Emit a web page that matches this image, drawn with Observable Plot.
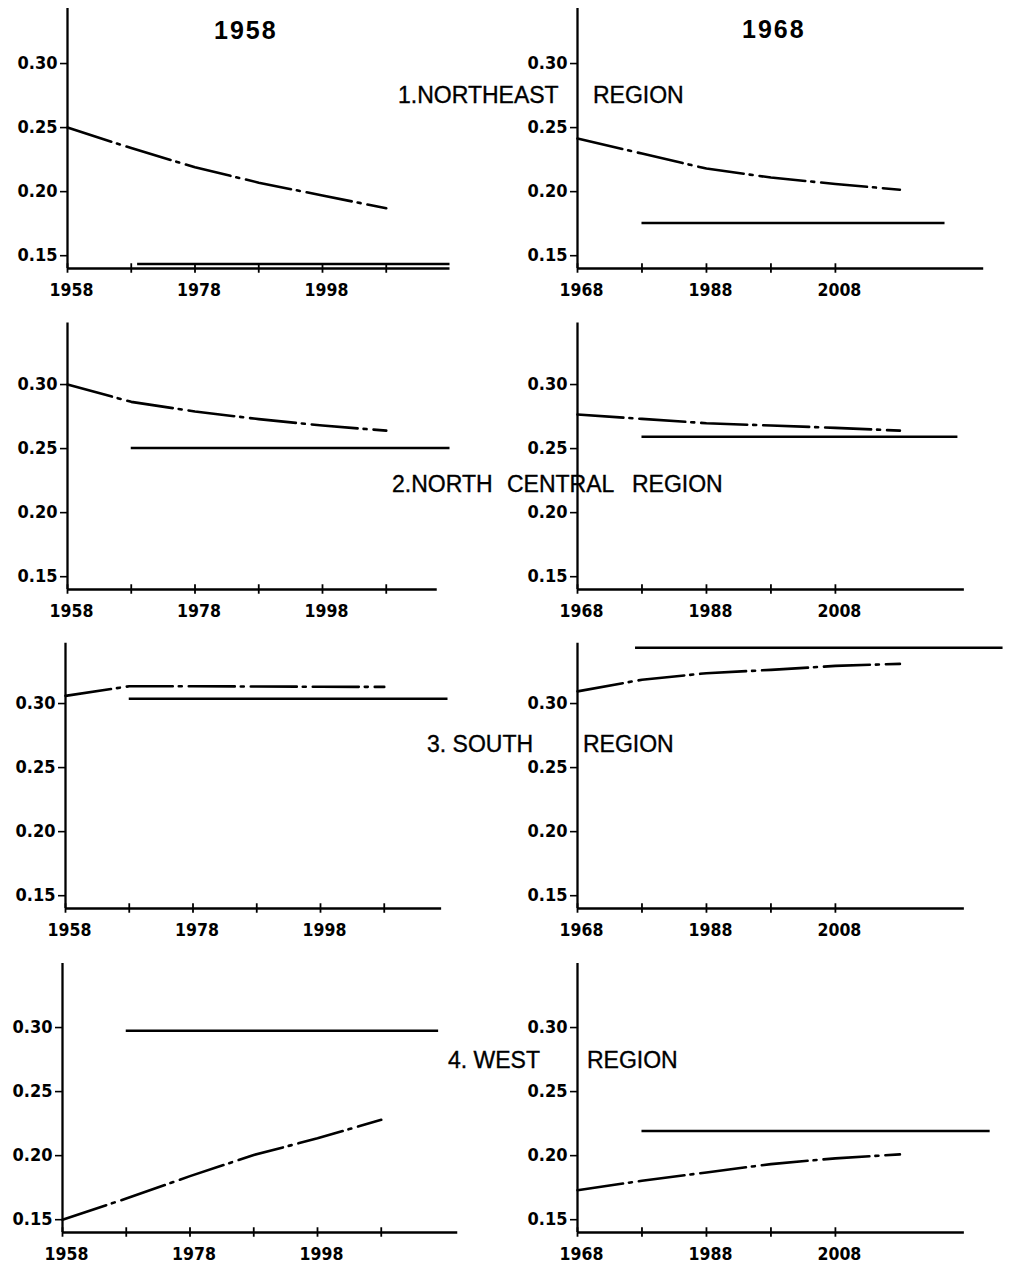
<!DOCTYPE html>
<html>
<head>
<meta charset="utf-8">
<script src="https://cdn.jsdelivr.net/npm/d3@7"></script>
<script src="https://cdn.jsdelivr.net/npm/@observablehq/plot@0.6"></script>
<style>
  html, body { margin: 0; padding: 0; background: #fff; }
  #chart { position: relative; width: 1009px; height: 1264px; overflow: hidden; background: #fff; }
  .panel { position: absolute; }
  .label { position: absolute; font-family: "Liberation Sans", Arial, sans-serif; color: #000; white-space: pre; line-height: 1; }
  .col-title { font-size: 25px; font-weight: bold; letter-spacing: 2px; }
  .region { font-size: 23px; -webkit-text-stroke: 0.35px #000; }
</style>
</head>
<body>
<div id="chart"></div>
<script>
// Projection base years (one column each)
const baseYears = [1958, 1968];
const columnTitles = ["1958", "1968"];

// Region names, split where the right-hand axis runs through them
const regionParts = [
  ["1.NORTHEAST", "REGION"],
  ["2.NORTH", "CENTRAL", "REGION"],
  ["3. SOUTH", "REGION"],
  ["4. WEST", "REGION"]
];

// Years of the projected (dash-dot) series
const years1958 = [1958, 1968, 1978, 1988, 1998, 2008];
const years1968 = [1968, 1978, 1988, 1998, 2008, 2018];

// Projected shares, base 1958
const northeast1958    = [0.250, 0.234, 0.219, 0.207, 0.197, 0.187];
const northCentral1958 = [0.300, 0.2865, 0.279, 0.273, 0.268, 0.264];
const south1958        = [0.306, 0.3135, 0.3135, 0.3133, 0.3131, 0.313];
const west1958         = [0.150, 0.1665, 0.184, 0.2005, 0.2135, 0.228];

// Projected shares, base 1968
const northeast1968    = [0.2415, 0.2297, 0.218, 0.211, 0.206, 0.2015];
const northCentral1968 = [0.2766, 0.2732, 0.2698, 0.268, 0.2662, 0.264];
const south1968        = [0.3095, 0.3186, 0.3237, 0.3263, 0.3294, 0.331];
const west1968         = [0.173, 0.1804, 0.1869, 0.1934, 0.1979, 0.201];

// Equilibrium levels (solid lines) and the years they span
const level1958 = [0.1435, 0.2505, 0.3038, 0.2975];
const level1968 = [0.1755, 0.2593, 0.3436, 0.2192];
const levelFrom1958 = [1969, 1968, 1968, 1968];
const levelTo1958   = [2018, 2018, 2018, 2017];
const levelFrom1968 = [1978, 1978, 1977, 1978];
const levelTo1968   = [2025, 2027, 2034, 2032];

// Axis extents (years at the end of each x axis, value at the top of each y axis)
const axisEnd1958 = [2018, 2016, 2017, 2020];
const axisEnd1968 = [2031, 2028, 2028, 2028];
const axisTop = [0.343, 0.348, 0.347, 0.350];

// Ticks
const yTicks = [0.15, 0.20, 0.25, 0.30];
const tickYears1958 = [1958, 1968, 1978, 1988, 1998, 2008];
const tickYears1968 = [1968, 1978, 1988, 1998, 2008];
const labelYears1958 = [1958, 1978, 1998];
const labelYears1968 = [1968, 1988, 2008];

const series = [
  [northeast1958, northeast1968],
  [northCentral1958, northCentral1968],
  [south1958, south1968],
  [west1958, west1968]
];

// Layout of the grid
const rowTop = [-11, 309.5, 629.3, 953];
const colLeft = [[0, 500], [0, 500], [-2, 500], [-5, 500]];
const yDomain = [0.14, 0.35];
const tickFont = "DejaVu Sans Condensed, DejaVu Sans, sans-serif";

const chart = document.getElementById("chart");

function makePanel(row, col) {
  const start = baseYears[col];
  const years = col === 0 ? years1958 : years1968;
  const values = series[row][col];
  const pts = years.map((year, i) => ({year, value: values[i]}));
  const level = col === 0 ? level1958[row] : level1968[row];
  const from = col === 0 ? levelFrom1958[row] : levelFrom1968[row];
  const to = col === 0 ? levelTo1958[row] : levelTo1968[row];
  const end = col === 0 ? axisEnd1958[row] : axisEnd1968[row];
  const tickYears = col === 0 ? tickYears1958 : tickYears1968;
  const labelYears = col === 0 ? labelYears1958 : labelYears1968;
  const xDomain = col === 0 ? [1958, 2022] : [1968, 2035];
  const ml = col === 0 ? 67 : 77;
  const width = col === 0 ? 480 : 509;
  const mr = col === 0 ? 5 : 0;

  const svg = Plot.plot({
    width, height: 319,
    marginLeft: ml, marginRight: mr, marginTop: 10, marginBottom: 40,
    style: {background: "transparent", color: "#000", overflow: "visible"},
    x: {domain: xDomain},
    y: {domain: yDomain},
    marks: [
      // y axis with value labels
      Plot.axisY(yTicks, {
        tickSize: 7, tickPadding: 3, strokeWidth: 1.6,
        tickFormat: d3.format(".2f"),
        fontSize: 18, fontWeight: "bold", fontFamily: tickFont,
        label: null
      }),
      // year labels under the x axis
      Plot.axisX(labelYears, {
        tickSize: 0, tickPadding: 15, dx: 4,
        tickFormat: d => String(d),
        fontSize: 17.5, fontWeight: "bold", fontFamily: tickFont,
        label: null
      }),
      // short tick marks crossing the x axis every ten years
      Plot.ruleX(tickYears, {y1: 0.1363, y2: 0.1437, strokeWidth: 1.8}),
      // axis lines
      Plot.ruleX([start], {y1: yDomain[0], y2: axisTop[row], strokeWidth: 2.3}),
      Plot.ruleY([yDomain[0]], {x1: start, x2: end, strokeWidth: 2.3}),
      // equilibrium level
      Plot.ruleY([level], {x1: from, x2: to, strokeWidth: 2.6}),
      // projected path
      Plot.line(pts, {
        x: "year", y: "value",
        curve: "linear",
        strokeWidth: 2.6,
        strokeDasharray: "46,6,3,7"
      })
    ]
  });
  svg.classList.add("panel");
  svg.style.left = colLeft[row][col] + "px";
  svg.style.top = rowTop[row] + "px";
  chart.appendChild(svg);
}

for (let r = 0; r < 4; r++) for (let c = 0; c < 2; c++) makePanel(r, c);

// Column titles
function addLabel(text, cls, left, baseline, fontSize) {
  const el = document.createElement("div");
  el.className = "label " + cls;
  el.textContent = text;
  el.style.left = left + "px";
  el.style.top = (baseline - 0.8465 * fontSize) + "px";
  chart.appendChild(el);
  return el;
}
addLabel(columnTitles[0], "col-title", 214, 39, 25);
addLabel(columnTitles[1], "col-title", 742, 38, 25);

// Region names, written across the gap between the two columns
const regionLefts = [[398, 593], [392, 507, 632], [427, 583], [448, 587]];
const regionBaselines = [103, 492, 752, 1068];
regionParts.forEach((parts, r) => {
  parts.forEach((p, i) => addLabel(p, "region", regionLefts[r][i], regionBaselines[r], 23));
});
</script>
</body>
</html>
